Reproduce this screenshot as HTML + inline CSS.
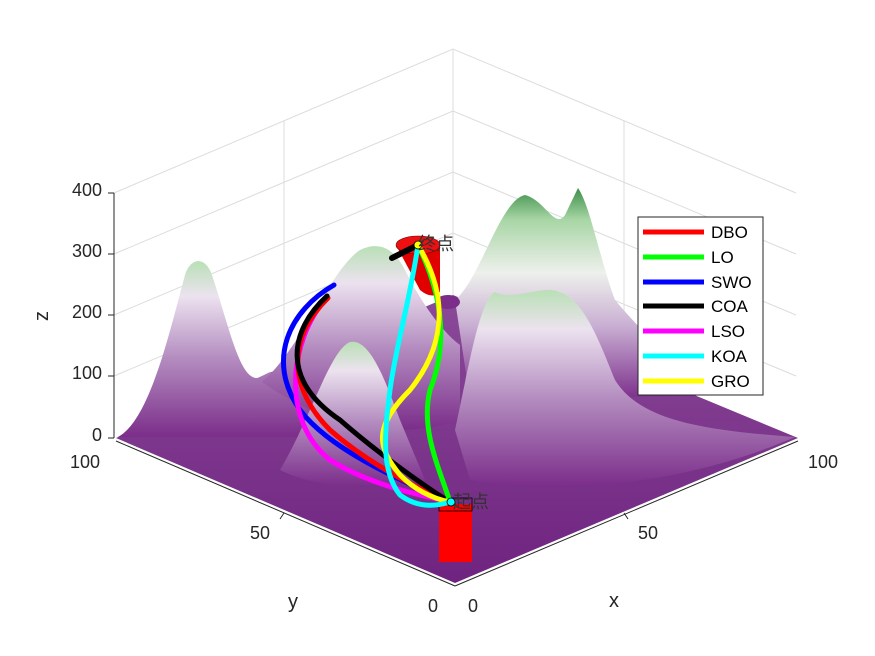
<!DOCTYPE html>
<html><head><meta charset="utf-8"><style>
body{margin:0;background:#fff;}
svg{display:block;font-family:"Liberation Sans","Noto Sans CJK SC",sans-serif;}
</style></head><body>
<svg width="875" height="656" viewBox="0 0 875 656" xmlns="http://www.w3.org/2000/svg">
<defs>
<linearGradient id="m1" x1="0" y1="1" x2="0" y2="0">
<stop offset="0" stop-color="#7b2d8a"/><stop offset="0.45" stop-color="#b48dc0"/><stop offset="0.8" stop-color="#ece2ef"/><stop offset="1" stop-color="#b9e0b5"/></linearGradient>
<linearGradient id="m2" x1="0" y1="1" x2="0" y2="0">
<stop offset="0" stop-color="#7b2d8a"/><stop offset="0.35" stop-color="#c9afd3"/><stop offset="0.6" stop-color="#eef0ec"/><stop offset="0.85" stop-color="#a8d6a5"/><stop offset="1" stop-color="#3d8f4a"/></linearGradient>
<linearGradient id="fl" x1="0" y1="0" x2="0" y2="1">
<stop offset="0" stop-color="#8a4a98"/><stop offset="1" stop-color="#6f2380"/></linearGradient>
</defs>
<g stroke="#dcdcdc" stroke-width="1" fill="none">
<polyline points="114,193 453,49 796,193"/>
<polyline points="114,254 453,111 796,254"/>
<polyline points="114,315 453,172 796,315"/>
<polyline points="114,376 453,233 796,376"/>
<line x1="453" y1="49" x2="453" y2="295"/>
<line x1="284" y1="121" x2="284" y2="366"/>
<line x1="624" y1="121" x2="624" y2="366"/>
</g>
<polygon points="116,438 453,295 798,438 455,583" fill="url(#fl)"/>
<path d="M455,300 C480,280 500,200 525,195 C545,200 555,230 565,215 L578,188 C590,205 600,260 615,300 C640,330 680,370 720,395 L470,400 Z" fill="url(#m2)"/>
<path d="M396,245 L420,290 Q432,300 440,292 L440,245 Z" fill="#e00000"/>
<ellipse cx="418" cy="245" rx="22" ry="9" fill="#ee1010" stroke="#600" stroke-width="0.6"/>
<ellipse cx="448" cy="302" rx="12" ry="7" fill="#7b2d8a"/>
<path d="M118,437 C150,420 170,330 185,275 C190,258 205,255 212,275 C230,330 240,380 258,378 L270,372 C300,395 330,420 350,437 Z" fill="url(#m1)"/>
<path d="M262,382 C300,350 330,270 360,250 C380,240 395,250 405,270 C420,300 440,330 460,345 L460,420 C400,440 330,430 262,382 Z" fill="url(#m1)"/>
<path d="M280,470 C310,420 330,350 350,342 C370,338 385,380 400,420 L425,480 C380,490 320,490 280,470 Z" fill="url(#m1)"/>
<path d="M455,430 C470,360 480,300 495,292 C510,300 530,290 550,290 C580,292 595,330 615,380 C640,420 700,430 795,437 C720,470 600,500 470,480 Z" fill="url(#m1)"/>
<rect x="439" y="504" width="33" height="58" fill="#ff0000"/>
<rect x="439" y="498" width="33" height="13" fill="none" stroke="#000" stroke-width="0.8"/>
<g fill="none" stroke-width="5" stroke-linecap="round">
<path d="M334,285 C290,310 265,360 300,410 C330,450 400,480 450,502" stroke="#0000ff"/>
<path d="M325,300 C290,340 280,420 330,460 C370,485 420,495 450,502" stroke="#ff00ff"/>
<path d="M328,298 C285,340 290,390 330,430 C370,465 420,490 450,502" stroke="#ff0000"/>
<path d="M327,296 C290,330 280,380 340,420 C380,455 430,490 450,502" stroke="#000"/>
<path d="M392,258 L418,245" stroke="#000" stroke-width="6"/>
<path d="M418,245 C440,290 450,340 430,390 C420,430 440,470 450,502" stroke="#00ff00"/>
<path d="M418,245 C445,290 450,340 410,390 C370,430 380,450 400,475 C420,495 440,500 450,502" stroke="#ffff00"/>
<path d="M418,245 C410,300 395,350 390,390 C385,430 380,470 400,495 C420,510 440,505 450,502" stroke="#00ffff"/>
</g>
<circle cx="418" cy="245" r="4" fill="#ff0" stroke="#000" stroke-width="0.8"/>
<circle cx="451" cy="502" r="4" fill="#0ff" stroke="#000" stroke-width="0.8"/>
<text x="418" y="250" font-size="18" fill="#333">终点</text>
<text x="453" y="508" font-size="18" fill="#333">起点</text>
<g stroke="#262626" stroke-width="1" fill="none">
<line x1="114" y1="193" x2="114" y2="438"/>
<line x1="116" y1="441" x2="455" y2="586"/>
<line x1="455" y1="586" x2="798" y2="441"/>
<line x1="108" y1="193" x2="114" y2="193"/><line x1="108" y1="254" x2="114" y2="254"/><line x1="108" y1="315" x2="114" y2="315"/><line x1="108" y1="376" x2="114" y2="376"/><line x1="108" y1="438" x2="114" y2="438"/>
<line x1="284" y1="513" x2="280" y2="519"/><line x1="624" y1="513" x2="628" y2="519"/>
</g>
<g font-size="18" fill="#262626">
<text x="102" y="196" text-anchor="end">400</text>
<text x="102" y="257" text-anchor="end">300</text>
<text x="102" y="318" text-anchor="end">200</text>
<text x="102" y="379" text-anchor="end">100</text>
<text x="102" y="441" text-anchor="end">0</text>
<text x="100" y="468" text-anchor="end">100</text>
<text x="270" y="539" text-anchor="end">50</text>
<text x="438" y="612" text-anchor="end">0</text>
<text x="468" y="612">0</text>
<text x="638" y="539">50</text>
<text x="808" y="468">100</text>
<text x="293" y="608" font-size="20" text-anchor="middle">y</text>
<text x="614" y="607" font-size="20" text-anchor="middle">x</text>
<text x="48" y="316" font-size="20" text-anchor="middle" transform="rotate(-90 48 316)">z</text>
</g>
<rect x="638" y="217" width="125" height="178" fill="#fff" stroke="#262626" stroke-width="1"/>
<g stroke-width="5">
<line x1="643" y1="232" x2="704" y2="232" stroke="#f00"/>
<line x1="643" y1="257" x2="704" y2="257" stroke="#0f0"/>
<line x1="643" y1="282" x2="704" y2="282" stroke="#00f"/>
<line x1="643" y1="306" x2="704" y2="306" stroke="#000"/>
<line x1="643" y1="331" x2="704" y2="331" stroke="#f0f"/>
<line x1="643" y1="356" x2="704" y2="356" stroke="#0ff"/>
<line x1="643" y1="381" x2="704" y2="381" stroke="#ff0"/>
</g>
<g font-size="17" fill="#000">
<text x="711" y="238">DBO</text><text x="711" y="263">LO</text><text x="711" y="288">SWO</text>
<text x="711" y="312">COA</text><text x="711" y="337">LSO</text><text x="711" y="362">KOA</text><text x="711" y="387">GRO</text>
</g>
</svg>
</body></html>
